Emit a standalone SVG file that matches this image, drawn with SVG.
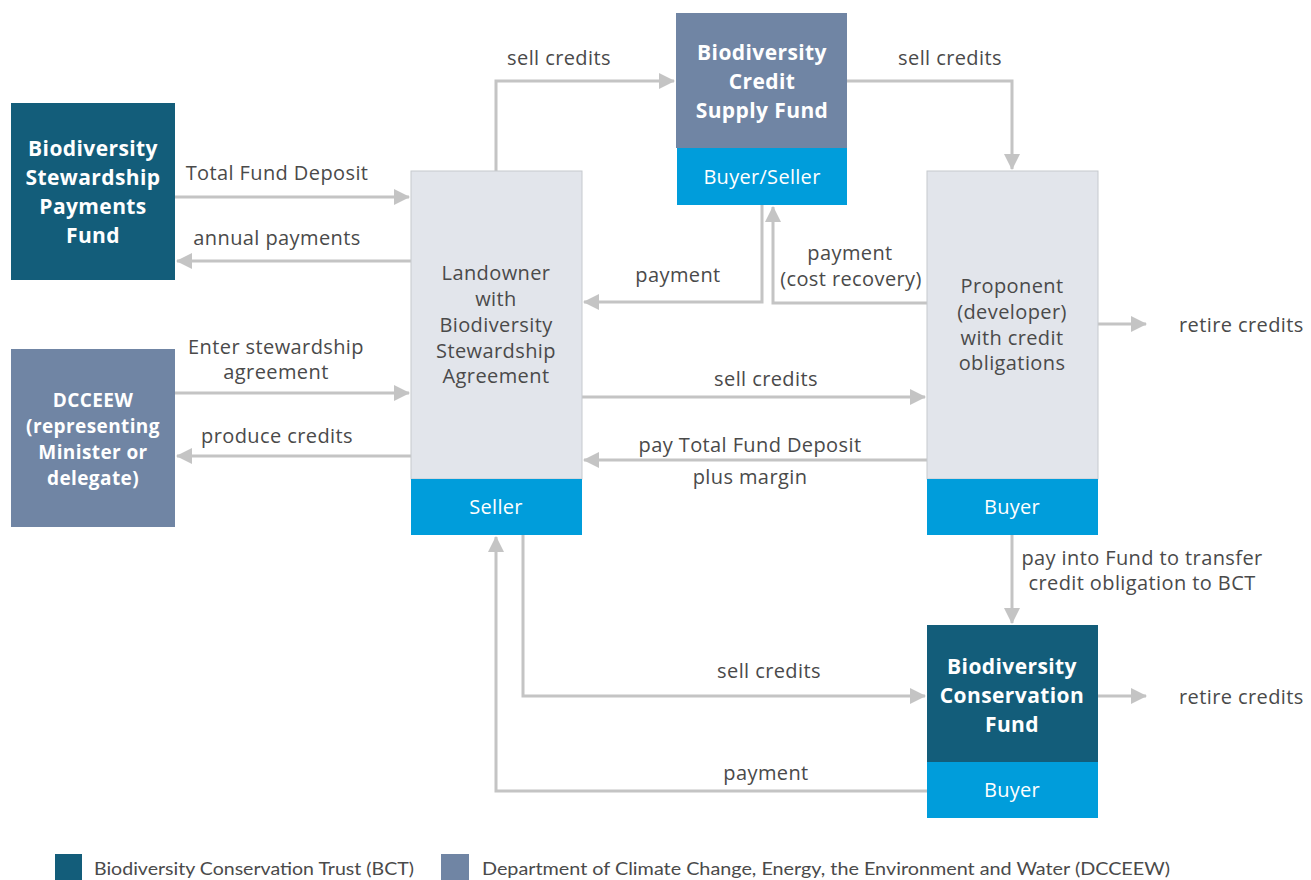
<svg xmlns="http://www.w3.org/2000/svg" width="1311" height="880" viewBox="0 0 1311 880">
<defs>
<marker id="ah" markerUnits="userSpaceOnUse" markerWidth="18" markerHeight="18" refX="15" refY="8" orient="auto">
<path d="M0,0 L16,8 L0,16 Z" fill="#c4c4c4"/>
</marker>
<style>
.bg{fill:#ffffff}
.teal{fill:#135d7a}
.slate{fill:#7085a4}
.light{fill:#e2e5eb;stroke:#c6c9ce;stroke-width:1}
.band{fill:#009ddb}
.hd{font-family:"Open Sans",Lato,sans-serif;font-weight:bold;fill:#ffffff;text-anchor:middle;letter-spacing:0.4px}
.bt{font-family:"Open Sans",Lato,sans-serif;fill:#ffffff;text-anchor:middle;font-size:20px;letter-spacing:0.3px}
.nt{font-family:"Open Sans",Lato,sans-serif;fill:#4a4a4a;text-anchor:middle;font-size:20px;letter-spacing:0.4px}
.lb{font-family:"Open Sans",Lato,sans-serif;fill:#4a4a4a;font-size:20px;letter-spacing:0.4px}
.lg{font-family:Lato,"Open Sans",sans-serif;fill:#4a4a4a;font-size:18px}
.c{fill:none;stroke:#c4c4c4;stroke-width:3}
.ca{fill:none;stroke:#c4c4c4;stroke-width:3;marker-end:url(#ah)}
</style>
</defs>
<rect class="bg" x="0" y="0" width="1311" height="880"/>

<g id="connectors">
<path class="ca" d="M175,197 H409"/>
<path class="ca" d="M411,261 H177"/>
<path class="ca" d="M175,393 H409"/>
<path class="ca" d="M411,456 H177"/>
<path class="ca" d="M496,171 V81 H674"/>
<path class="ca" d="M847,81 H1012 V169"/>
<path class="ca" d="M762,205 V302 H584"/>
<path class="ca" d="M927,303 H773 V207"/>
<path class="ca" d="M1098,324 H1146"/>
<path class="ca" d="M582,397 H925"/>
<path class="ca" d="M927,460 H584"/>
<path class="ca" d="M1012,535 V623"/>
<path class="ca" d="M523,535 V696 H925"/>
<path class="ca" d="M1098,696 H1146"/>
<path class="ca" d="M927,791 H496 V537"/>
<text class="lb" x="277" y="180" text-anchor="middle">Total Fund Deposit</text>
<text class="lb" x="277" y="245" text-anchor="middle">annual payments</text>
<text class="lb" x="276" y="354" text-anchor="middle">Enter stewardship</text>
<text class="lb" x="276" y="379" text-anchor="middle">agreement</text>
<text class="lb" x="277" y="443" text-anchor="middle">produce credits</text>
<text class="lb" x="559" y="65" text-anchor="middle">sell credits</text>
<text class="lb" x="950" y="65" text-anchor="middle">sell credits</text>
<text class="lb" x="678" y="282" text-anchor="middle">payment</text>
<text class="lb" x="850" y="260" text-anchor="middle">payment</text>
<text class="lb" x="851" y="286" text-anchor="middle">(cost recovery)</text>
<text class="lb" x="1179" y="332">retire credits</text>
<text class="lb" x="766" y="386" text-anchor="middle">sell credits</text>
<text class="lb" x="750" y="452" text-anchor="middle">pay Total Fund Deposit</text>
<text class="lb" x="750" y="484" text-anchor="middle">plus margin</text>
<text class="lb" x="1142" y="565" text-anchor="middle">pay into Fund to transfer</text>
<text class="lb" x="1142" y="590" text-anchor="middle">credit obligation to BCT</text>
<text class="lb" x="769" y="678" text-anchor="middle">sell credits</text>
<text class="lb" x="1179" y="704">retire credits</text>
<text class="lb" x="766" y="780" text-anchor="middle">payment</text>
</g>

<g id="bspf">
<rect class="teal" x="11" y="103" width="164" height="177"/>
<text class="hd" font-size="21" x="93" y="156">Biodiversity</text>
<text class="hd" font-size="21" x="93" y="185">Stewardship</text>
<text class="hd" font-size="21" x="93" y="214">Payments</text>
<text class="hd" font-size="21" x="93" y="243">Fund</text>
</g>

<g id="dcceew">
<rect class="slate" x="11" y="349" width="164" height="178"/>
<text class="hd" font-size="19" x="93" y="407">DCCEEW</text>
<text class="hd" font-size="19" x="93" y="433">(representing</text>
<text class="hd" font-size="19" x="93" y="459">Minister or</text>
<text class="hd" font-size="19" x="93" y="485">delegate)</text>
</g>

<g id="landowner">
<rect class="light" x="411" y="171" width="171" height="308"/>
<rect class="band" x="411" y="479" width="171" height="56"/>
<text class="nt" x="496" y="280">Landowner</text>
<text class="nt" x="496" y="306">with</text>
<text class="nt" x="496" y="332">Biodiversity</text>
<text class="nt" x="496" y="358">Stewardship</text>
<text class="nt" x="496" y="383">Agreement</text>
<text class="bt" x="496" y="514">Seller</text>
</g>

<g id="bcsf">
<rect class="slate" x="676" y="13" width="171" height="135"/>
<rect class="band" x="677" y="148" width="170" height="57"/>
<text class="hd" font-size="21" x="762" y="60">Biodiversity</text>
<text class="hd" font-size="21" x="762" y="89">Credit</text>
<text class="hd" font-size="21" x="762" y="118">Supply Fund</text>
<text class="bt" x="762" y="184">Buyer/Seller</text>
</g>

<g id="proponent">
<rect class="light" x="927" y="171" width="171" height="308"/>
<rect class="band" x="927" y="479" width="171" height="56"/>
<text class="nt" x="1012" y="293">Proponent</text>
<text class="nt" x="1012" y="319">(developer)</text>
<text class="nt" x="1012" y="345">with credit</text>
<text class="nt" x="1012" y="370">obligations</text>
<text class="bt" x="1012" y="514">Buyer</text>
</g>

<g id="bcf">
<rect class="teal" x="927" y="625" width="171" height="137"/>
<rect class="band" x="927" y="762" width="171" height="56"/>
<text class="hd" font-size="21" x="1012" y="674">Biodiversity</text>
<text class="hd" font-size="21" x="1012" y="703">Conservation</text>
<text class="hd" font-size="21" x="1012" y="732">Fund</text>
<text class="bt" x="1012" y="797">Buyer</text>
</g>

<g id="legend">
<rect class="teal" x="55" y="854" width="27" height="26"/>
<text class="lg" x="94" y="875" textLength="320" lengthAdjust="spacingAndGlyphs">Biodiversity Conservation Trust (BCT)</text>
<rect class="slate" x="441" y="854" width="28" height="26"/>
<text class="lg" x="482" y="875" textLength="688" lengthAdjust="spacingAndGlyphs">Department of Climate Change, Energy, the Environment and Water (DCCEEW)</text>
</g>
</svg>
